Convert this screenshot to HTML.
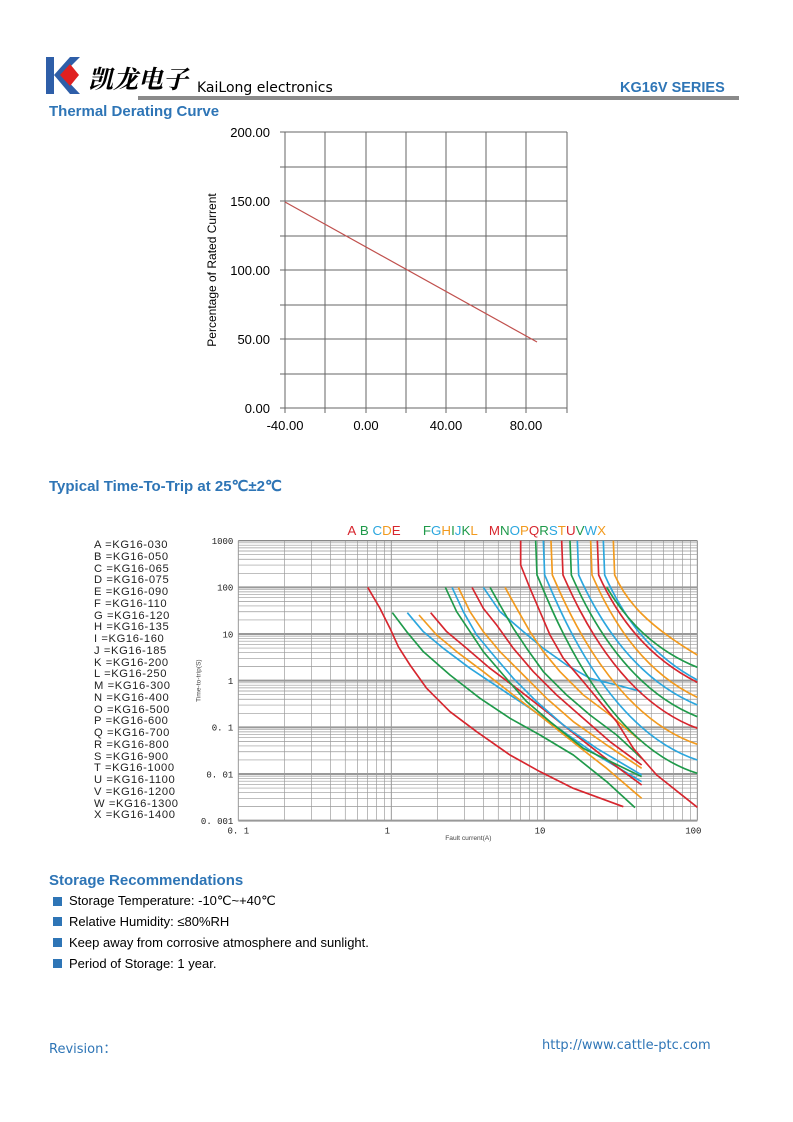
<!DOCTYPE html>
<html><head><meta charset="utf-8"><style>
body{margin:0;background:#fff;}
#pg{position:relative;width:793px;height:1122px;overflow:hidden;font-family:"Liberation Sans",sans-serif;}
.a{position:absolute;white-space:nowrap;}
.h{color:#2e75b6;font-weight:bold;font-size:15px;}
.li{font-size:13px;color:#000;}
.sq{position:absolute;width:9px;height:9px;background:#2e75b6;}
</style></head><body><div id="pg">
<svg class="a" style="left:46px;top:57px" width="34" height="38"><rect x="0" y="0" width="8" height="37" fill="#2e5ea8"/><polygon points="8,18 24,0 34,0 16,18 34,37 24,37" fill="#2e5ea8"/><polygon points="14,18 24,7 33,18 24,29" fill="#e02020"/></svg>
<div class="a" style="left:88px;top:60px;font-size:25px;font-family:'Noto Serif CJK SC',serif;font-weight:bold;font-style:italic;">凯龙电子</div>
<div class="a" style="left:197px;top:80px;font-size:14px;font-family:'DejaVu Sans',sans-serif;">KaiLong electronics</div>
<div class="a" style="left:138px;top:96px;width:601px;height:4px;background:#8a8a8a"></div>
<div class="a h" style="left:620px;top:80px;font-size:14.5px">KG16V SERIES</div>
<div class="a h" style="left:49px;top:103px">Thermal Derating Curve</div>
<svg class="a" style="left:0;top:0" width="793" height="460" id="th"></svg>
<div class="a h" style="left:49px;top:477px">Typical Time-To-Trip at 25℃±2℃</div>
<div class="a" id="leg" style="left:94px;top:540px;font-size:11.2px;line-height:11.75px;letter-spacing:0.6px;color:#222;"></div>
<svg class="a" style="left:190px;top:515px" width="520" height="330" viewBox="0 0 1560 990" id="tt"></svg>
<div class="a h" style="left:49px;top:872px">Storage Recommendations</div>
<div class="sq" style="left:53px;top:897px"></div><div class="a li" style="left:69px;top:893px">Storage Temperature: -10℃~+40℃</div>
<div class="sq" style="left:53px;top:917px"></div><div class="a li" style="left:69px;top:914px">Relative Humidity: ≤80%RH</div>
<div class="sq" style="left:53px;top:938px"></div><div class="a li" style="left:69px;top:935px">Keep away from corrosive atmosphere and sunlight.</div>
<div class="sq" style="left:53px;top:959px"></div><div class="a li" style="left:69px;top:956px">Period of Storage: 1 year.</div>
<div class="a" style="left:49px;top:1038px;font-size:13px;color:#2e75b6;font-family:'DejaVu Sans',sans-serif">Revision：</div>
<div class="a" style="left:542px;top:1038px;font-size:13px;color:#2e75b6;font-family:'DejaVu Sans',sans-serif">http://www.cattle-ptc.com</div>
</div>
<script>
var s='';
var xs=[285,325,366,406,446,486,526,567],ys=[132,167,201,236,270,305,339,374,408];
xs.forEach(function(x){s+='<line x1="'+x+'" y1="132" x2="'+x+'" y2="413" stroke="#666" stroke-width="1"/>';});
ys.forEach(function(y){s+='<line x1="280" y1="'+y+'" x2="567" y2="'+y+'" stroke="#666" stroke-width="1"/>';});
['200.00','150.00','100.00','50.00','0.00'].forEach(function(t,i){s+='<text x="270" y="'+(ys[i*2]+5)+'" font-size="13" text-anchor="end" font-family="Liberation Sans">'+t+'</text>';});
[['-40.00',285],['0.00',366],['40.00',446],['80.00',526]].forEach(function(a){s+='<text x="'+a[1]+'" y="430" font-size="13" text-anchor="middle" font-family="Liberation Sans">'+a[0]+'</text>';});
s+='<text transform="translate(216,270) rotate(-90)" font-size="12" text-anchor="middle" font-family="Liberation Sans">Percentage of Rated Current</text>';
s+='<line x1="285" y1="202" x2="537" y2="342" stroke="#c0504d" stroke-width="1.2"/>';
document.getElementById('th').innerHTML=s;
var L='ABCDEFGHIJKLMNOPQRSTUVWX',V=['030','050','065','075','090','110','120','135','160','185','200','250','300','400','500','600','700','800','900','1000','1100','1200','1300','1400'],h='';
for(var i=0;i<24;i++)h+=L[i]+' =KG16-'+V[i]+'<br>';
document.getElementById('leg').innerHTML=h;
s='';var X0=145,X1=1522,Y0=77,Y1=917,dx=(X1-X0)/3,dy=(Y1-Y0)/6;
for(var d=0;d<3;d++)for(var k=1;k<10;k++){var x=X0+dx*(d+Math.log10(k));s+='<line x1="'+x+'" y1="'+Y0+'" x2="'+x+'" y2="'+Y1+'" stroke="#999" stroke-width="'+(k==1?3:2)+'"/>';}
s+='<line x1="'+X1+'" y1="'+Y0+'" x2="'+X1+'" y2="'+Y1+'" stroke="#888" stroke-width="3"/>';
for(var d=0;d<6;d++)for(var k=1;k<10;k++){var y=Y1-dy*(d+Math.log10(k));s+='<line x1="'+X0+'" y1="'+y+'" x2="'+X1+'" y2="'+y+'" stroke="#999" stroke-width="'+(k==1?6:2)+'"/>';}
s+='<line x1="'+X0+'" y1="'+Y0+'" x2="'+X1+'" y2="'+Y0+'" stroke="#888" stroke-width="4"/>';
['1000','100','10','1','0. 1','0. 01','0. 001'].forEach(function(t,i){s+='<text x="130" y="'+(Y0+dy*i+10)+'" font-size="27" text-anchor="end" font-family="Liberation Mono" fill="#222">'+t+'</text>';});
[['0. 1',145],['1',592],['10',1050],['100',1510]].forEach(function(a){s+='<text x="'+a[1]+'" y="955" font-size="27" text-anchor="middle" font-family="Liberation Mono" fill="#222">'+a[0]+'</text>';});
s+='<text x="835" y="975" font-size="20" text-anchor="middle" font-family="Liberation Sans" fill="#444">Fault current(A)</text>';
s+='<text transform="translate(32,497) rotate(-90)" font-size="20" text-anchor="middle" font-family="Liberation Sans" fill="#444">Time-to-trip(S)</text>';
var R='#d7262e',G='#1f9a4a',B='#2ba6de',O='#f29a1e';
var hdr=[['A',R],[' B',G],[' C',B],['D',O],['E',R],['      F',G],['G',B],['H',O],['I',G],['J',B],['K',G],['L',O],['   M',R],['N',G],['O',B],['P',O],['Q',R],['R',G],['S',B],['T',O],['U',R],['V',G],['W',B],['X',O]];
var t='<text x="472" y="60" font-size="40" font-family="Liberation Sans" xml:space="preserve">';hdr.forEach(function(a){t+='<tspan fill="'+a[1]+'">'+a[0]+'</tspan>';});s+=t+'</text>';
function pl(p,c){s+='<polyline points="'+p+'" fill="none" stroke="'+c+'" stroke-width="5" stroke-linejoin="round"/>';}
pl('533,217 570,280 600,340 625,395 660,450 710,520 780,590 860,650 960,720 1050,770 1150,820 1300,875',R);
pl('607,293 650,350 700,410 780,480 870,550 960,610 1050,660 1150,720 1250,800 1335,878',G);
pl('652,293 700,350 760,400 840,460 930,520 1020,580 1120,650 1220,720 1355,800',B);
pl('687,300 740,360 800,410 880,470 970,540 1060,610 1160,690 1250,760 1355,850',O);
pl('722,293 770,350 830,400 900,460 980,520 1070,590 1170,670 1260,740 1355,810',R);
pl('766,217 800,290 840,350 880,410 940,480 1010,560 1080,620 1180,700 1355,785',G);
pl('786,217 820,290 860,360 910,420 970,490 1040,560 1120,630 1220,700 1355,780',B);
pl('805,217 840,290 880,350 930,410 1000,480 1070,550 1150,620 1250,690 1355,760',O);
pl('846,217 880,280 920,330 970,400 1030,470 1100,540 1180,610 1260,680 1355,750',R);
pl('880,217 930,290 1000,350 1060,400 1130,450 1200,490 1280,510 1355,530',B);
pl('900,217 930,270 970,340 1010,400 1060,470 1130,540 1200,600 1280,660 1355,730',G);
pl('945,217 980,280 1020,350 1060,410 1110,470 1180,540 1260,600 1355,680',O);
pl('992,77 992,150 1020,220 1050,290 1080,360 1120,430 1180,500 1230,560 1280,620 1330,700 1400,780 1522,877',R);
var rg=[[1037,G,775],[1060,B,735],[1083,O,688],[1115,R,640],[1140,G,605],[1162,B,570],[1202,O,547],[1222,R,502],[1240,B,495],[1270,O,420]];
rg.forEach(function(a){var x=a[0],e=a[2];s+='<path d="M'+x+',77 L'+(x+4)+',180 C'+(x+40)+','+(260)+' '+(x+(1522-x)*0.4)+','+(e-90)+' 1522,'+e+'" fill="none" stroke="'+a[1]+'" stroke-width="5"/>';});
s+='<path d="M1250,217 C1300,300 1380,400 1522,457" fill="none" stroke="'+G+'" stroke-width="5"/>';
document.getElementById('tt').innerHTML=s;
</script>
</body></html>
